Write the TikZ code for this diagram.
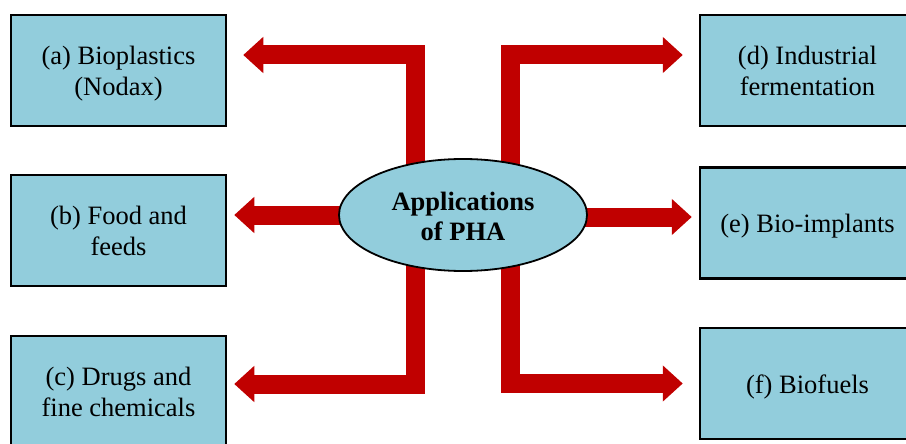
\documentclass[tikz,border=0pt]{standalone}
\usepackage{fontspec}
\setmainfont{Liberation Serif}
\usetikzlibrary{arrows.meta,shapes.geometric,backgrounds}
\definecolor{boxblue}{RGB}{146,205,220}
\definecolor{arrowred}{RGB}{192,0,0}
\begin{document}
\begin{tikzpicture}[x=1pt,y=1pt,
  appbox/.style={draw=black, line width=2.5pt, fill=boxblue,
    minimum width=215pt, minimum height=111pt, inner sep=0pt,
    align=center, font=\fontsize{26.5}{31}\selectfont},
  oneline/.style={appbox, text height=19pt, text depth=0pt},
  twoline/.style={appbox, text height=50pt, text depth=0pt},
  hub/.style={ellipse, draw=black, line width=1.8pt, fill=boxblue,
    minimum width=248pt, minimum height=112pt, inner sep=0pt,
    text height=50.5pt, text depth=0pt,
    align=center, font=\fontsize{26.5}{29.5}\selectfont\bfseries},
  bigarrow/.style={draw=arrowred, line width=19pt,
    line join=miter, -{Triangle[length=20pt,width=35pt,fill=arrowred]}}
]
\useasboundingbox (0,0) rectangle (906,-444);

% central hub
\node[hub] (pha) at (463,-215) {Applications\\of PHA};

% application boxes, left column
\node[twoline] (a) at (118.5,-70.5) {(a) Bioplastics\\(Nodax)};
\node[twoline] (b) at (118.5,-230.5) {(b) Food and\\feeds};
\node[twoline] (c) at (118.5,-391.5) {(c) Drugs and\\fine chemicals};

% application boxes, right column
\node[twoline] (d) at (807.5,-70.5) {(d) Industrial\\fermentation};
\node[oneline] (e) at (807.5,-223) {(e) Bio-implants};
\node[oneline] (f) at (807.5,-383.5) {(f) Biofuels};

% thick red arrows, behind the hub
\begin{scope}[on background layer]
  \draw[bigarrow] ([xshift=-47.5pt]pha.center) |- ([shift={(16pt,15.5pt)}]a.east);
  \draw[bigarrow] (pha.center) -- ([xshift=7pt]b.east |- pha.center);
  \draw[bigarrow] ([xshift=-47.5pt]pha.center) |- ([shift={(7pt,7.5pt)}]c.east);
  \draw[bigarrow] ([xshift=47.5pt]pha.center) |- ([shift={(-16pt,15.5pt)}]d.west);
  \draw[bigarrow] ([yshift=-2pt]pha.center) -- ([xshift=-7pt,yshift=-2pt]e.west |- pha.center);
  \draw[bigarrow] ([xshift=47.5pt]pha.center) |- ([xshift=-16pt]f.west);
\end{scope}
\end{tikzpicture}
\end{document}
